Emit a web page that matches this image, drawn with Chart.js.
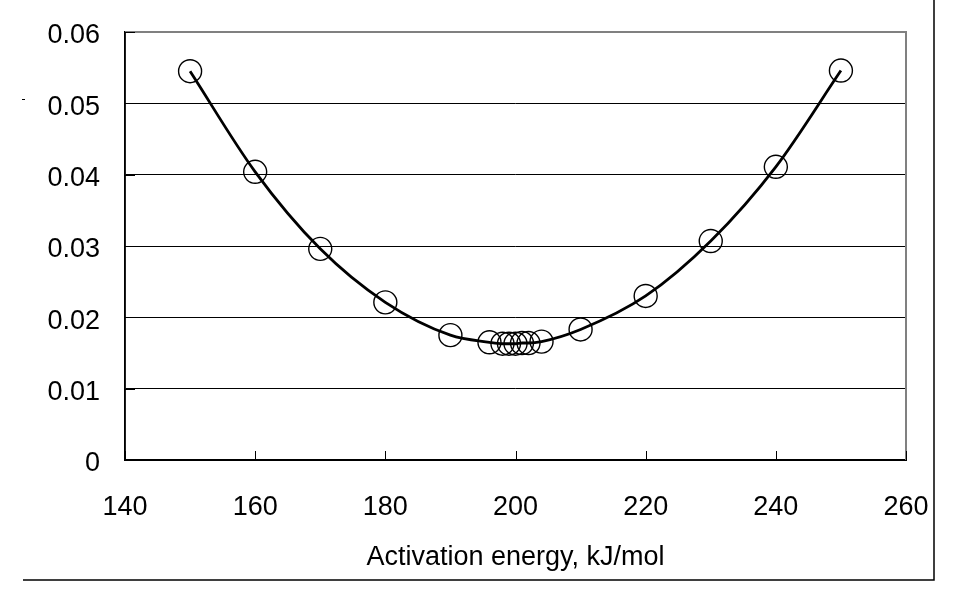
<!DOCTYPE html>
<html>
<head>
<meta charset="utf-8">
<script src="https://cdn.jsdelivr.net/npm/chart.js@4/dist/chart.umd.min.js"></script>
<style>
  html, body { margin: 0; padding: 0; background: #fff; }
  #wrap { width: 953px; height: 596px; }
</style>
</head>
<body>
<div id="wrap"><canvas id="c" width="953" height="596"></canvas></div>
<script>
// Data
const activationEnergy = [150, 160, 170, 180, 190, 196, 198, 199, 200, 201, 202, 204, 210, 220, 230, 240, 250];
const objectiveValue   = [0.0545, 0.0404, 0.0296, 0.0221, 0.0175, 0.0165, 0.0163, 0.0163, 0.0163, 0.0164, 0.0164, 0.0166, 0.0183, 0.0230, 0.0307, 0.0411, 0.0546];
const xTicks = [140, 160, 180, 200, 220, 240, 260];
const yTicks = [0, 0.01, 0.02, 0.03, 0.04, 0.05, 0.06];
const xTitle = 'Activation energy, kJ/mol';

const points = activationEnergy.map((x, i) => ({ x: x, y: objectiveValue[i] }));

const framePlugin = {
  id: 'frame',
  afterDraw(chart) {
    const ctx = chart.ctx;
    const xs = chart.scales.x, ys = chart.scales.y;
    const a = chart.chartArea;
    ctx.save();
    // gray top and right border of plot area
    ctx.strokeStyle = '#808080';
    ctx.lineWidth = 2;
    ctx.beginPath();
    ctx.moveTo(a.left, a.top);
    ctx.lineTo(a.right, a.top);
    ctx.lineTo(a.right, a.bottom);
    ctx.stroke();
    // inward tick marks
    ctx.strokeStyle = '#000';
    ctx.lineWidth = 1;
    ctx.beginPath();
    xTicks.forEach(v => {
      const px = Math.round(xs.getPixelForValue(v)) + 0.5;
      ctx.moveTo(px, a.bottom);
      ctx.lineTo(px, a.bottom - 9);
    });
    yTicks.forEach(v => {
      const py = Math.round(ys.getPixelForValue(v)) + 0.5;
      ctx.moveTo(a.left, py);
      ctx.lineTo(a.left + 10, py);
    });
    ctx.stroke();
    // left axis line
    ctx.lineWidth = 1.5;
    ctx.beginPath();
    ctx.moveTo(a.left, a.top);
    ctx.lineTo(a.left, a.bottom);
    ctx.stroke();
    // outer frame (right and bottom)
    ctx.lineWidth = 1.5;
    ctx.beginPath();
    ctx.moveTo(934, 0);
    ctx.lineTo(934, 580);
    ctx.lineTo(23, 580);
    ctx.stroke();
    // small stray mark at left
    ctx.lineWidth = 1;
    ctx.beginPath();
    ctx.moveTo(22, 99.5);
    ctx.lineTo(25, 99.5);
    ctx.stroke();
    ctx.restore();
  }
};

new Chart(document.getElementById('c'), {
  type: 'scatter',
  data: {
    datasets: [
      {
        label: 'fit',
        data: points,
        showLine: true,
        borderColor: '#000',
        borderWidth: 2.8,
        pointRadius: 0,
        pointHoverRadius: 0,
        cubicInterpolationMode: 'monotone',
        fill: false,
        order: 0
      },
      {
        label: 'data',
        data: points,
        showLine: false,
        pointStyle: 'circle',
        pointRadius: 11.5,
        pointHoverRadius: 11.5,
        pointBorderWidth: 1.4,
        pointBorderColor: '#000',
        pointBackgroundColor: 'rgba(0,0,0,0)',
        order: 1
      }
    ]
  },
  options: {
    responsive: false,
    animation: false,
    devicePixelRatio: 1,
    layout: { padding: { left: 0, top: 32, right: 47, bottom: 0 } },
    plugins: {
      legend: { display: false },
      tooltip: { enabled: false }
    },
    scales: {
      x: {
        type: 'linear',
        min: 140,
        max: 260,
        afterFit(scale) {
          scale.height = 136;
          scale.paddingLeft = 0;
          scale.paddingRight = 0;
        },
        afterBuildTicks(scale) { scale.ticks = xTicks.map(v => ({ value: v })); },
        ticks: {
          color: '#000',
          padding: 31,
          font: { family: 'Liberation Sans', size: 27 },
          maxRotation: 0,
          callback: v => String(v)
        },
        grid: { display: false, drawTicks: false },
        border: { display: true, color: '#000', width: 2 },
        title: {
          display: true,
          text: xTitle,
          color: '#000',
          font: { family: 'Liberation Sans', size: 27 },
          padding: { top: 0, bottom: 22 }
        }
      },
      y: {
        type: 'linear',
        min: 0,
        max: 0.06,
        afterFit(scale) {
          scale.width = 125;
          scale.paddingTop = 0;
          scale.paddingBottom = 0;
        },
        afterBuildTicks(scale) { scale.ticks = yTicks.map(v => ({ value: v })); },
        ticks: {
          color: '#000',
          padding: 25,
          labelOffset: 4,
          font: { family: 'Liberation Sans', size: 27 },
          callback: v => (v === 0 ? '0' : v.toFixed(2))
        },
        grid: {
          drawTicks: false,
          color: ctx => (ctx.tick && Math.abs(ctx.tick.value - 0.06) < 1e-9 ? 'rgba(0,0,0,0)' : '#000'),
          lineWidth: 1
        },
        border: { display: true, color: '#000', width: 1.5 }
      }
    }
  },
  plugins: [framePlugin]
});
</script>
</body>
</html>
